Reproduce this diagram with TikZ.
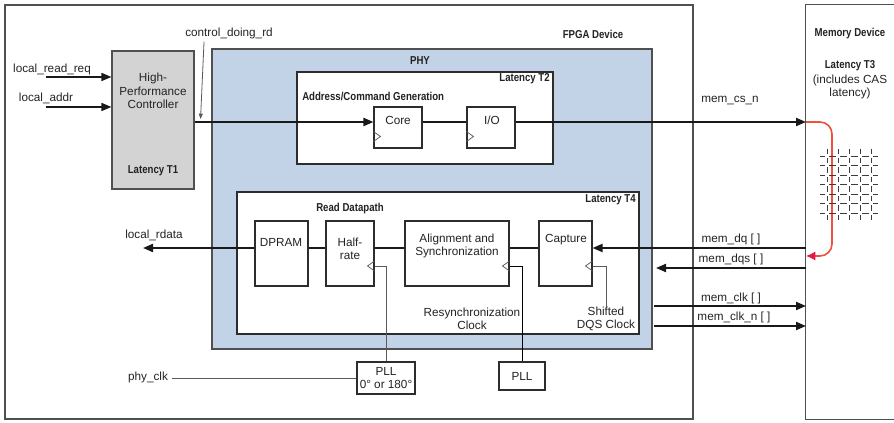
\documentclass[tikz,border=0pt]{standalone}
\usepackage{fontspec}
\setmainfont{Liberation Sans}
\newfontfamily\cbf{Liberation Sans}[FakeStretch=0.84]
\usetikzlibrary{arrows.meta,fit,calc}
\definecolor{linec}{RGB}{45,45,45}
\definecolor{framec}{RGB}{80,80,80}
\definecolor{textc}{RGB}{35,35,35}
\definecolor{phyblue}{RGB}{194,211,232}
\definecolor{ctrlgray}{RGB}{211,211,211}
\definecolor{clkc}{RGB}{90,90,90}
\definecolor{redc}{RGB}{240,80,60}
\definecolor{pinkc}{RGB}{228,23,75}
\definecolor{gridc}{RGB}{60,60,60}
\begin{document}
\begin{tikzpicture}[x=0.75pt,y=-0.75pt,
  font=\fontsize{8.8}{10}\selectfont,
  frame/.style={draw=framec, line width=0.9pt, inner sep=0pt},
  box/.style={draw=linec, line width=0.8pt, inner sep=0pt, fill=white},
  tx/.style={inner sep=0pt, align=center, text=textc},
  bt/.style={tx, font=\cbf\bfseries\fontsize{8.6}{10}\selectfont},
  wire/.style={draw=black!90, line width=1.5pt},
  arr/.style={-{Triangle[length=7.5pt,width=6pt]}},
  clk/.style={draw=clkc, line width=0.7pt},
  tri/.style={draw=clkc, line width=0.55pt}]
\useasboundingbox (0,0) rectangle (894,423);
% outer frames
\node[frame, fit={(5,5) (693,419)}] (fpga) {};
\node[inner sep=0pt, fit={(806,5) (894,419)}] (mem) {};
\draw[framec, line width=0.9pt] (mem.north east) -- (mem.north west) -- (mem.south west) -- (mem.south east);
% PHY
\node[draw=framec, line width=0.8pt, fill=phyblue, inner sep=0pt, fit={(212,49) (652,349)}] (phy) {};
% controller
\node[draw=framec, line width=0.8pt, fill=ctrlgray, inner sep=0pt, fit={(112,51) (194,189)}] (ctrl) {};
% address/command
\node[box, fit={(297,72) (553,164)}] (acg) {};
\node[box, fit={(374,107) (422,148)}] (core) {};
\node[box, fit={(467,107) (515,148)}] (io) {};
% read datapath
\node[box, fit={(237,192) (639,334)}] (rdp) {};
\node[box, fit={(255,221) (308,286)}] (dpram) {};
\node[box, fit={(326,221) (374,286)}] (half) {};
\node[box, fit={(405,221) (509,286)}] (align) {};
\node[box, fit={(539,221) (592,286)}] (cap) {};
% PLLs
\node[box, fit={(357,362) (415,394)}] (pll1) {};
\node[box, fit={(499,362) (545,390)}] (pll2) {};

% level coordinates
\coordinate (ylev) at (0,122);
\coordinate (ydat) at (0,248);
\coordinate (yclk) at (0,266);
\coordinate (lrq) at (46,77);
\coordinate (lad) at (46,107);
\coordinate (lrd) at (143,248);
\coordinate (mcs) at (806,122);
\coordinate (mdq) at (806,248);
\coordinate (mdqsA) at (806,268);
\coordinate (mdqsB) at (656,268);
\coordinate (mclkA) at (654,306);
\coordinate (mclkB) at (806,306);
\coordinate (mclknA) at (654,326);
\coordinate (mclknB) at (806,326);
\coordinate (mret) at (806,256);

% texts
\node[tx] (lrqt) at (52,69) {local\_read\_req};
\node[tx] (ladt) at (46,98) {local\_addr};
\node[tx] (cdr) at (229,33) {control\_doing\_rd};
\node[tx] (ctrlt) at (153,91) {High-\\Performance\\Controller};
\node[bt] (lt1) at (153,171) {Latency T1};
\node[bt] (fpgat) at (593,34) {FPGA Device};
\node[bt] (phyt) at (420,61) {PHY};
\node[bt, anchor=east] (lt2) at (550,79) {Latency T2};
\node[bt, anchor=west] (acgt) at (302,96) {Address/Command Generation};
\node[tx] (coret) at (398,120) {Core};
\node[tx] (iot) at (492,120) {I/O};
\node[tx] (mcst) at (730,101) {mem\_cs\_n};
\node[bt] (memt) at (850,34) {Memory Device};
\node[bt] (lt3) at (850,66) {Latency T3};
\node[tx] (cast) at (850,87) {(includes CAS\\latency)};
\node[bt, anchor=east] (lt4) at (636,200) {Latency T4};
\node[bt] (rdpt) at (350,209) {Read Datapath};
\node[tx] (dpramt) at (281,242) {DPRAM};
\node[tx] (halft) at (350,249) {Half-\\rate};
\node[tx] (alignt) at (457,246) {Alignment and\\Synchronization};
\node[tx] (capt) at (566,240) {Capture};
\node[tx] (lrdt) at (154,235) {local\_rdata};
\node[tx] (resync) at (472,319) {Resynchronization\\Clock};
\node[tx] (shift) at (606,319) {Shifted\\DQS Clock};
\node[tx] (phyclk) at (148,377) {phy\_clk};
\node[tx] (pll1t) at (pll1) {PLL\\0° or 180°};
\node[tx] (pll2t) at (pll2) {PLL};
\node[tx] (mdqt) at (731,239) {mem\_dq [ ]};
\node[tx] (mdqst) at (731,259) {mem\_dqs [ ]};
\node[tx] (mclkt) at (731,298) {mem\_clk [ ]};
\node[tx] (mclknt) at (734,317) {mem\_clk\_n [ ]};

% input arrows
\draw[wire, line width=1.2pt, arr] (lrq) -- (ctrl.west |- lrq);
\draw[wire, line width=1.2pt, arr] (lad) -- (ctrl.west |- lad);
% control_doing_rd pointer
\draw[clk, line width=0.6pt, -{Triangle[length=4pt,width=3pt]}] ($(cdr.south west)+(19,3)$) -- ($(ctrl.east |- ylev)+(6,-3)$);
% command path
\draw[wire, arr] (ctrl.east |- ylev) -- (core.west |- ylev);
\draw[wire] (core.east |- ylev) -- (io.west |- ylev);
\draw[wire, arr] (io.east |- ylev) -- (mcs);
% read path
\draw[wire, arr] (mdq) -- (cap.east |- ydat);
\draw[wire] (cap.west |- ydat) -- (align.east |- ydat);
\draw[wire] (align.west |- ydat) -- (half.east |- ydat);
\draw[wire] (half.west |- ydat) -- (dpram.east |- ydat);
\draw[wire, arr] (dpram.west |- ydat) -- (lrd);
% memory side
\draw[wire, arr] (mdqsA) -- (mdqsB);
\draw[wire, arr] (mclkA) -- (mclkB);
\draw[wire, arr] (mclknA) -- (mclknB);
% clock triangles
\draw[tri] ($(core.south west)+(0,-17)$) -- ++(7,5) -- ++(-7,5);
\draw[tri] ($(io.south west)+(0,-17)$) -- ++(7,5) -- ++(-7,5);
\draw[tri] ($(half.east |- yclk)+(0,-5)$) -- ++(-7,5) -- ++(7,5);
\draw[tri] ($(align.east |- yclk)+(0,-5)$) -- ++(-7,5) -- ++(7,5);
\draw[tri] ($(cap.east |- yclk)+(0,-5)$) -- ++(-7,5) -- ++(7,5);
% clock lines
\draw[clk] (half.east |- yclk) -| (pll1.north);
\draw[clk, draw=black] (align.east |- yclk) -| (pll2.north);
\draw[clk] (cap.east |- yclk) -| (shift.north);
\draw[clk] (pll1.west) -- ([xshift=3pt]phyclk.east |- pll1.west);
% red latency curve
\draw[redc, line width=1.2pt, rounded corners=9pt, -{Latex[length=7pt,width=7pt,color=pinkc]}]
  (mcs) -- (832,122) -- (832,256) -- (mret);
% memory array
\foreach \r in {0,...,6} {
  \pgfmathsetmacro{\yy}{156+9.5*\r}
  \draw[gridc, line width=0.5pt] (820,\yy) -- (825,\yy);
  \foreach \c in {0,...,3} {
    \pgfmathsetmacro{\xa}{829+11*\c}
    \draw[gridc, line width=0.5pt] (\xa,\yy) -- ++(7,0);
  }
  \draw[gridc, line width=0.5pt] (873,\yy) -- (878,\yy);
}
\foreach \c in {0,...,4} {
  \pgfmathsetmacro{\xx}{827+11*\c}
  \draw[gridc, line width=0.5pt] (\xx,149) -- (\xx,154);
  \foreach \r in {0,...,5} {
    \pgfmathsetmacro{\ya}{158+9.5*\r}
    \draw[gridc, line width=0.5pt] (\xx,\ya) -- ++(0,5.5);
  }
  \draw[gridc, line width=0.5pt] (\xx,215) -- (\xx,220);
}
\end{tikzpicture}
\end{document}
